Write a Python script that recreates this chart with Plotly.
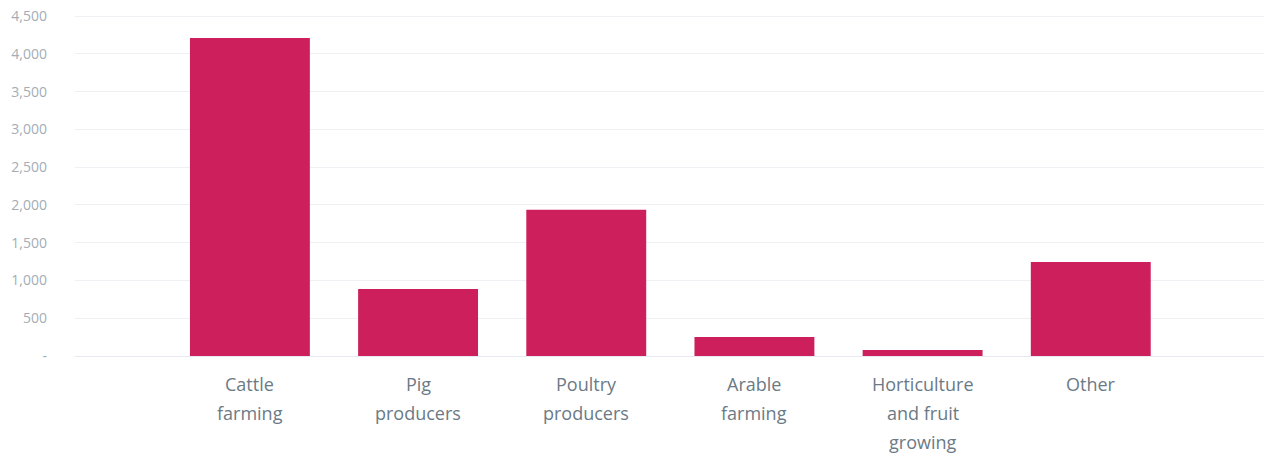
import plotly.graph_objects as go

categories = ["Cattle farming", "Pig producers", "Poultry producers", "Arable farming",
              "Horticulture and fruit growing", "Other"]
label_lines = [["Cattle", "farming"], ["Pig", "producers"], ["Poultry", "producers"],
               ["Arable", "farming"], ["Horticulture", "and fruit", "growing"], ["Other"]]
values = [4210, 887, 1935, 252, 80, 1245]
tick_vals = [0, 500, 1000, 1500, 2000, 2500, 3000, 3500, 4000, 4500]
tick_text = ["-", "500", "1,000", "1,500", "2,000", "2,500", "3,000", "3,500", "4,000", "4,500"]

FONT = "Open Sans"
fig = go.Figure()
fig.add_trace(go.Bar(x=categories, y=values, marker_color="#cc1f5c",
                     marker_line_width=0, hoverinfo="x+y"))

annotations = []
for cat, lines in zip(categories, label_lines):
    for i, ln in enumerate(lines):
        annotations.append(dict(x=cat, y=0, xref="x", yref="y", text=ln, showarrow=False,
                                yanchor="middle", xanchor="center", yshift=-28 - 29 * i,
                                font=dict(family=FONT, size=18, color="#6b7a85")))

fig.update_layout(
    width=1264, height=454,
    margin=dict(l=75, r=0, t=15, b=98, autoexpand=False),
    paper_bgcolor="white", plot_bgcolor="white",
    bargap=0.287,
    showlegend=False,
    annotations=annotations,
    xaxis=dict(type="category", range=[-1.04, 6.03], showticklabels=False,
               showgrid=False, zeroline=False, showline=False, ticks="", automargin=False),
    yaxis=dict(range=[0, 4515], tickvals=tick_vals, ticktext=tick_text,
               showgrid=True, gridcolor="#eef0f3", gridwidth=1,
               zeroline=True, zerolinecolor="#e6e9ed", zerolinewidth=1,
               showline=False, ticks="", ticklabelstandoff=27, automargin=False,
               ticklabeloverflow="allow",
               tickfont=dict(family=FONT, size=14, color="#a3adb5")),
)
fig.write_html("out.html", config={"displayModeBar": False},
               post_script="document.body.style.margin='0';document.body.style.overflow='hidden';")
